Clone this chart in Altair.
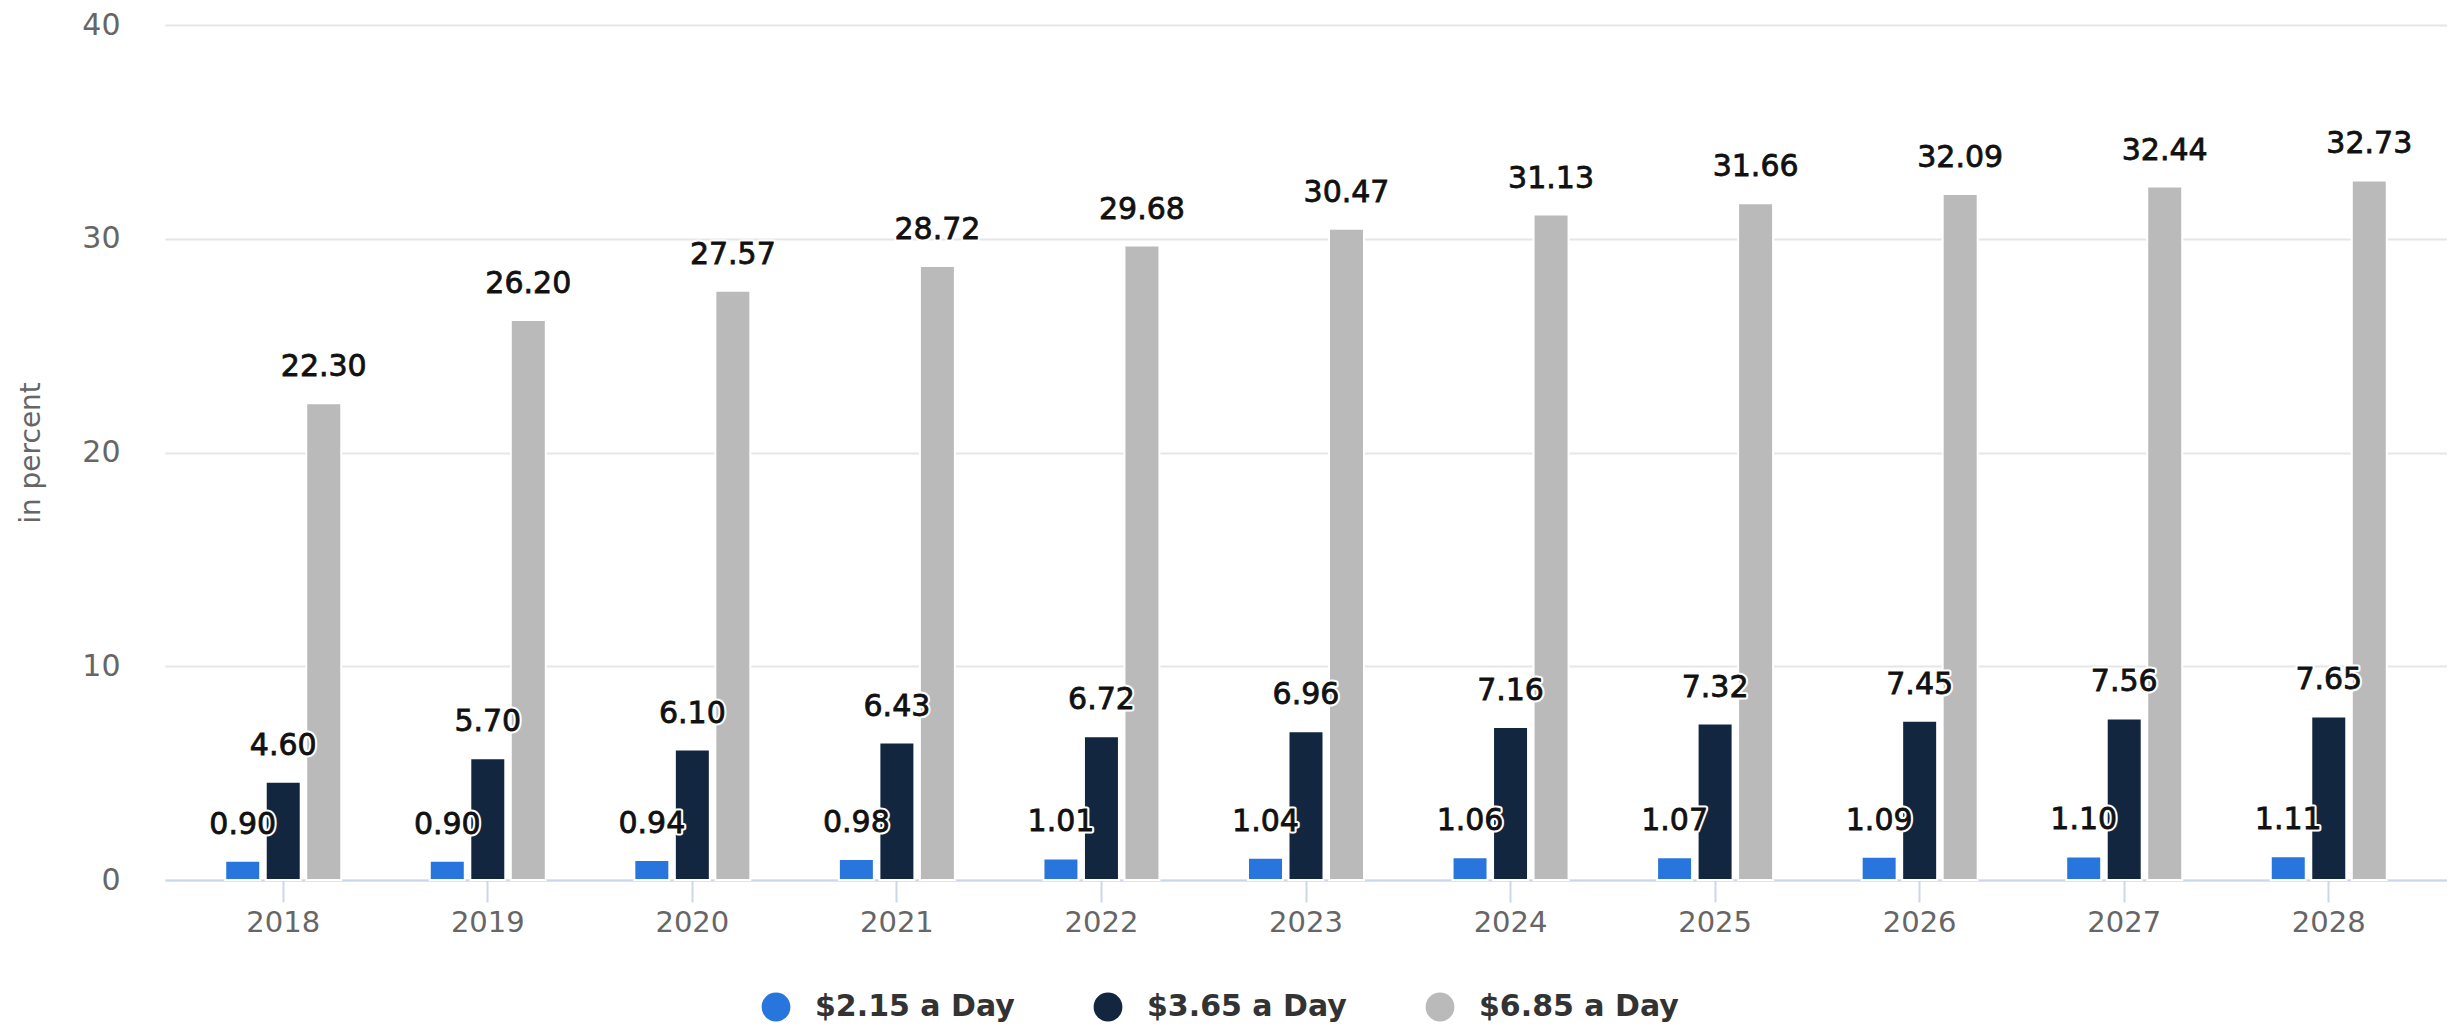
import altair as alt
import pandas as pd

years = ["2018", "2019", "2020", "2021", "2022", "2023", "2024", "2025", "2026", "2027", "2028"]
series = ["$2.15 a Day", "$3.65 a Day", "$6.85 a Day"]
v215 = [0.90, 0.90, 0.94, 0.98, 1.01, 1.04, 1.06, 1.07, 1.09, 1.10, 1.11]
v365 = [4.60, 5.70, 6.10, 6.43, 6.72, 6.96, 7.16, 7.32, 7.45, 7.56, 7.65]
v685 = [22.30, 26.20, 27.57, 28.72, 29.68, 30.47, 31.13, 31.66, 32.09, 32.44, 32.73]
colors = ["#2876dd", "#12263f", "#bababa"]

rows = []
for name, vals in zip(series, [v215, v365, v685]):
    for yr, v in zip(years, vals):
        rows.append({"year": yr, "series": name, "value": v, "label": f"{v:.2f}"})
df = pd.DataFrame(rows)

FONT = "DejaVu Sans"
H = 855

x = alt.X(
    "year:N", sort=years,
    scale=alt.Scale(paddingInner=0.4, paddingOuter=0.278),
    axis=alt.Axis(title=None, labelAngle=0, grid=False,
                  domainColor="#ccd6eb", domainWidth=2,
                  tickColor="#ccd6eb", tickWidth=2, tickSize=22,
                  labelFont=FONT, labelFontSize=29, labelColor="#666666",
                  labelPadding=6),
)
xo = alt.XOffset("series:N", sort=series,
                 scale=alt.Scale(paddingInner=0.136, paddingOuter=0.083))
y = alt.Y(
    "value:Q",
    scale=alt.Scale(domain=[0, 40], nice=False),
    axis=alt.Axis(values=[0, 10, 20, 30, 40], title="in percent",
                  domain=False, ticks=False, grid=True,
                  gridColor="#e6e6e6", gridWidth=2,
                  labelFont=FONT, labelFontSize=30, labelColor="#666666",
                  labelPadding=45,
                  titleFont=FONT, titleFontSize=28, titleFontWeight="normal",
                  titleColor="#666666", titleX=-134, titleY=H / 2,
                  titleAngle=-90, titleBaseline="middle", titleAlign="center"),
)
color = alt.Color(
    "series:N", sort=series,
    scale=alt.Scale(domain=series, range=colors),
    legend=alt.Legend(title=None, orient="none", legendX=596, legendY=H + 112,
                      direction="horizontal", symbolType="circle",
                      symbolSize=830, symbolStrokeWidth=0, symbolOpacity=1,
                      labelFont=FONT, labelFontSize=30, labelFontWeight="bold",
                      labelColor="#333333", labelOffset=24, columnPadding=78,
                      labelLimit=400),
)

base = alt.Chart(df)

bars = base.mark_bar(stroke="white", strokeWidth=2).encode(x=x, xOffset=xo, y=y, color=color)

halo = base.mark_text(baseline="alphabetic", dy=-27, font=FONT, fontSize=30,
                      color="white", stroke="white",
                      strokeWidth=5, strokeJoin="round").encode(
    x=x, xOffset=xo, y=y, text="label:N")

labels = base.mark_text(baseline="alphabetic", dy=-27, font=FONT, fontSize=30,
                        color="#111111", stroke="#111111", strokeWidth=0.8).encode(
    x=x, xOffset=xo, y=y, text="label:N")

chart = alt.layer(bars, halo, labels).properties(
    width=2282, height=H,
    autosize=alt.AutoSizeParams(type="none"),
    padding={"left": 157, "top": 17, "right": 0, "bottom": 150},
).configure_view(stroke=None)

chart.save("out.html", embed_options={"renderer": "svg", "actions": False})
